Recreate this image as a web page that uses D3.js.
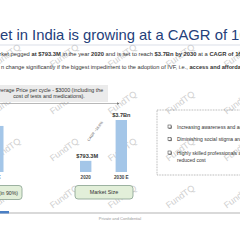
<!DOCTYPE html>
<html>
<head>
<meta charset="utf-8">
<script src="https://cdn.jsdelivr.net/npm/d3@7"></script>
<style>
  body { margin: 0; background: #fff; }
  svg { display: block; font-family: "Liberation Sans", Arial, sans-serif; }
</style>
</head>
<body>
<div class="slide"></div>
<script>
// market size chart
var years = ['2020', '2030 E'];
var marketSize = [793.3, 3700];           // $M
var marketLabels = ['$793.3M', '$3.7Bn'];

// cropped chart on the left edge
var leftYears = ['2030 E'];
var leftValues = [3.1];
var leftLabels = ['$3.1M'];

var drivers = [
  ['Increasing awareness and acceptance'],
  ['Diminishing social stigma around IVF'],
  ['Highly skilled professionals and', 'reduced cost']
];

var W = 240, H = 240;
var svg = d3.select('.slide').append('svg').attr('width', W).attr('height', H);

// watermark first so everything sits on top of it
var marks = [];
for (var i = 0; i < 5; i++) {
  for (var j = 0; j < 4; j++) {
    marks.push({x: 8 + 58 * i, y: 58 + 47 * j});
  }
}
svg.selectAll('.wm').data(marks).enter().append('text')
  .attr('class', 'wm')
  .attr('transform', function (d) { return 'translate(' + d.x + ',' + d.y + ') rotate(-36)'; })
  .attr('text-anchor', 'middle')
  .attr('font-size', 9)
  .attr('fill', '#d0d0d0')
  .text('FundTQ');

// title
svg.append('text').attr('x', 0).attr('y', 39.5)
  .attr('font-size', 14.8).attr('fill', '#24407a')
  .text('et in India is growing at a CAGR of 16.6%');
svg.append('line').attr('x1', 0).attr('x2', W).attr('y1', 45).attr('y2', 45)
  .attr('stroke', '#c3cbd8').attr('stroke-width', 0.6);

var sub1 = svg.append('text').attr('x', -4).attr('y', 56).attr('font-size', 5.8).attr('fill', '#333');
[['arket pegged ', false], ['at $793.3M', true], [' in the year ', false], ['2020', true],
 [' and is set to reach ', false], ['$3.7Bn by 2030', true], [' at a ', false], ['CAGR of 16.6%', true]]
  .forEach(function (p) {
    sub1.append('tspan').attr('font-weight', p[1] ? 'bold' : 'normal').text(p[0]);
  });

var sub2 = svg.append('text').attr('x', 1).attr('y', 68.5).attr('font-size', 5.7).attr('fill', '#333');
[['n change significantly if the biggest impediment to the adoption of IVF, i.e., ', false],
 ['access and affordability', true]]
  .forEach(function (p) {
    sub2.append('tspan').attr('font-weight', p[1] ? 'bold' : 'normal').text(p[0]);
  });

// price box
svg.append('rect').attr('x', -5).attr('y', 85).attr('width', 113).attr('height', 17).attr('fill', '#ebebeb');
svg.append('text').attr('x', 49).attr('y', 91.5).attr('text-anchor', 'middle')
  .attr('font-size', 5.3).attr('fill', '#333').text('Average Price per cycle - $3000 (including the');
svg.append('text').attr('x', 49).attr('y', 97.5).attr('text-anchor', 'middle')
  .attr('font-size', 5.3).attr('fill', '#333').text('cost of tests and medications).');

svg.append('defs').append('marker').attr('id', 'arr')
  .attr('viewBox', '0 0 6 6').attr('refX', 5).attr('refY', 3)
  .attr('markerWidth', 4).attr('markerHeight', 4).attr('orient', 'auto')
  .append('path').attr('d', 'M0,0L6,3L0,6Z').attr('fill', '#777');
svg.append('line').attr('x1', 0).attr('x2', 119).attr('y1', 103.5).attr('y2', 103.5)
  .attr('stroke', '#888').attr('stroke-width', 0.6).attr('marker-end', 'url(#arr)');

// bars
var y = d3.scaleLinear().domain([0, 3700]).range([172, 120]);
var x = d3.scaleBand().domain(years).range([80, 127]).paddingInner(0.68);

svg.selectAll('.bar').data(years).enter().append('rect')
  .attr('class', 'bar')
  .attr('x', function (d) { return x(d); })
  .attr('y', function (d, i) { return y(marketSize[i]); })
  .attr('width', x.bandwidth())
  .attr('height', function (d, i) { return y(0) - y(marketSize[i]); })
  .attr('fill', '#a4c6e8');

svg.selectAll('.val').data(years).enter().append('text')
  .attr('x', function (d, i) { return x(d) + x.bandwidth() / 2 + (i === 0 ? 1.5 : 0); })
  .attr('y', function (d, i) { return y(marketSize[i]) - 3; })
  .attr('text-anchor', 'middle').attr('font-size', 5.6).attr('font-weight', 'bold').attr('fill', '#333')
  .text(function (d, i) { return marketLabels[i]; });

svg.selectAll('.yr').data(years).enter().append('text')
  .attr('x', function (d) { return x(d) + x.bandwidth() / 2; })
  .attr('y', 178.5)
  .attr('text-anchor', 'middle').attr('font-size', 4.6).attr('font-weight', 'bold').attr('fill', '#444')
  .text(function (d) { return d; });

svg.append('text')
  .attr('transform', 'translate(96,132) rotate(-53)')
  .attr('text-anchor', 'middle').attr('font-size', 3.6).attr('fill', '#555')
  .text('CAGR ~16.6%');

// left cropped chart
var yl = d3.scaleLinear().domain([0, 3.5]).range([172, 120]);
var xl = d3.scaleBand().domain(leftYears).range([-9, 3.5]);
svg.selectAll('.lbar').data(leftYears).enter().append('rect')
  .attr('x', function (d) { return xl(d); })
  .attr('y', function (d, i) { return yl(leftValues[i]); })
  .attr('width', xl.bandwidth())
  .attr('height', function (d, i) { return yl(0) - yl(leftValues[i]); })
  .attr('fill', '#a4c6e8');
svg.selectAll('.lval').data(leftYears).enter().append('text')
  .attr('x', function (d) { return xl(d) + xl.bandwidth() / 2 - 6; })
  .attr('y', function (d, i) { return yl(leftValues[i]) - 3; })
  .attr('text-anchor', 'middle').attr('font-size', 5.6).attr('font-weight', 'bold').attr('fill', '#333')
  .text(function (d, i) { return leftLabels[i]; });
svg.selectAll('.lyr').data(leftYears).enter().append('text')
  .attr('x', function (d) { return xl(d) + xl.bandwidth() / 2 - 4; })
  .attr('y', 178.5)
  .attr('text-anchor', 'middle').attr('font-size', 4.6).attr('font-weight', 'bold').attr('fill', '#444')
  .text(function (d) { return d; });

// green labels
svg.append('rect').attr('x', -20).attr('y', 185.5).attr('width', 42).attr('height', 14).attr('rx', 3)
  .attr('fill', '#e2efd9').attr('stroke', '#86a08e').attr('stroke-width', 0.8);
svg.append('text').attr('x', 18).attr('y', 194.5).attr('text-anchor', 'end')
  .attr('font-size', 5.2).attr('fill', '#333').text('Success Rate (in 90%)');
svg.append('rect').attr('x', 75).attr('y', 185.5).attr('width', 58).attr('height', 13.5).attr('rx', 3)
  .attr('fill', '#e2efd9').attr('stroke', '#86a08e').attr('stroke-width', 0.8);
svg.append('text').attr('x', 104).attr('y', 194).attr('text-anchor', 'middle')
  .attr('font-size', 5.4).attr('fill', '#333').text('Market Size');

// drivers box
svg.append('rect').attr('x', 157).attr('y', 110).attr('width', 100).attr('height', 65)
  .attr('fill', 'none').attr('stroke', '#777').attr('stroke-width', 0.6).attr('stroke-dasharray', '0.8,0.8');
var rowY = [127, 139.5, 153];
var items = svg.selectAll('.drv').data(drivers).enter().append('g')
  .attr('transform', function (d, i) { return 'translate(168,' + rowY[i] + ')'; });
items.append('rect').attr('x', 0.6).attr('y', -1.4).attr('width', 3).attr('height', 3).attr('fill', '#555');
items.append('rect').attr('x', 0).attr('y', -2).attr('width', 3).attr('height', 3)
  .attr('fill', '#fff').attr('stroke', '#333').attr('stroke-width', 0.5);
items.selectAll('text').data(function (d) { return d; }).enter().append('text')
  .attr('x', 9).attr('y', function (d, k) { return 1.5 + k * 7; })
  .attr('font-size', 5).attr('fill', '#333')
  .text(function (d) { return d; });

// footer
svg.append('line').attr('x1', 0).attr('x2', W).attr('y1', 213).attr('y2', 213)
  .attr('stroke', '#cccccc').attr('stroke-width', 1.5);
svg.append('rect').attr('x', 0).attr('y', 211).attr('width', 9).attr('height', 2.5).attr('fill', '#4a7fc4');
svg.append('text').attr('x', 120).attr('y', 220).attr('text-anchor', 'middle')
  .attr('font-size', 4).attr('fill', '#999').text('Private and Confidential');
</script>
</body>
</html>
